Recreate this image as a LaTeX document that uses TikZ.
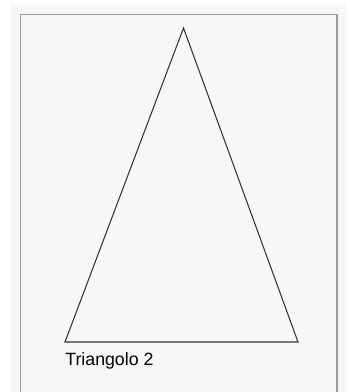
\documentclass[tikz,border=0pt]{standalone}
\usepackage{fontspec}
\setsansfont{Liberation Sans}
\usepackage{tikz}
\usetikzlibrary{positioning,calc}

\begin{document}
\begin{tikzpicture}[x=0.02cm, y=-0.02cm]
\useasboundingbox (0,0) rectangle (350,392);
% page background
\fill[black!3] (10,4) rectangle (346,392);
% frame, open at the bottom
\draw[black!40, line width=1pt] (20.5,392) -- (20.5,14.5) -- (337,14.5) -- (337,392);
% the triangle
\coordinate (apex) at (183.5,28);
\coordinate (bl) at (65,342);
\coordinate (br) at (298,342);
\draw[black!80, line width=0.6pt, line join=miter] (apex) -- (br) -- (bl) -- cycle;
\node[anchor=base west, inner sep=0pt, font=\sffamily\fontsize{10.1}{12}\selectfont] (lbl) at (65,365) {Triangolo 2};
\end{tikzpicture}
\end{document}
